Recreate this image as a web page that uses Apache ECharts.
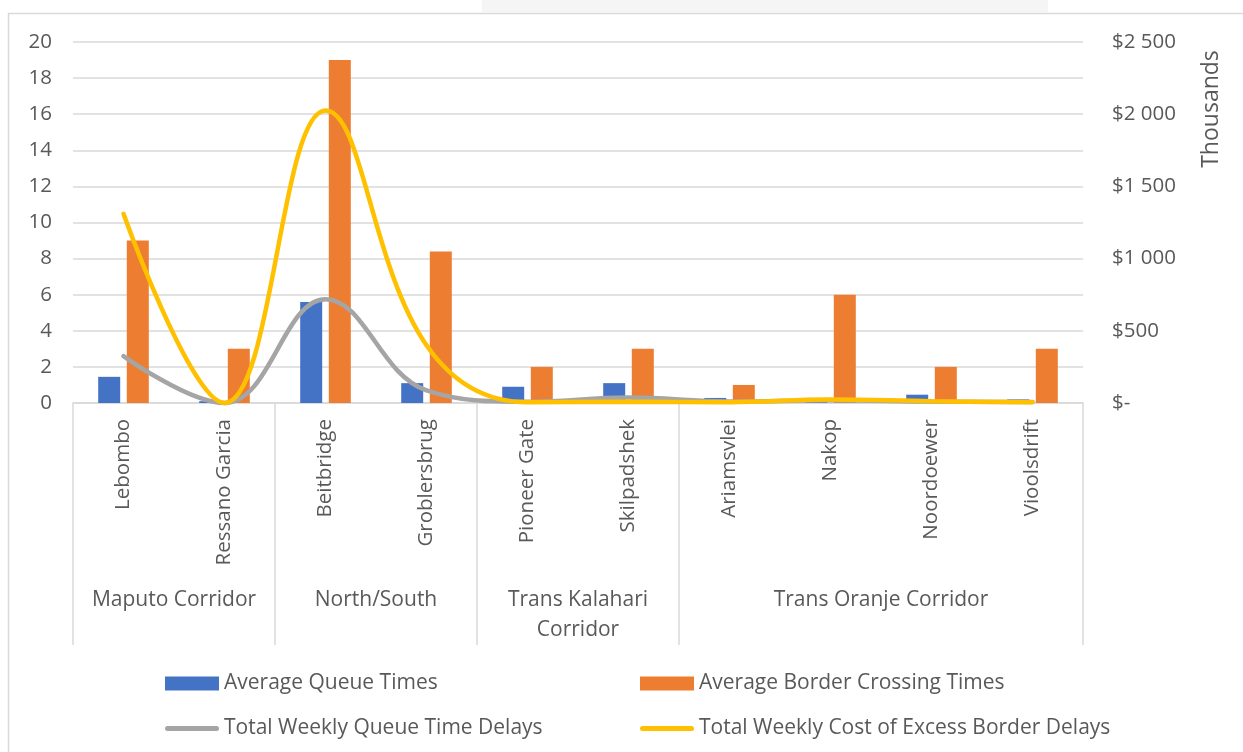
<!DOCTYPE html>
<html>
<head>
<meta charset="utf-8">
<script src="https://cdn.jsdelivr.net/npm/echarts@6/dist/echarts.min.js"></script>
<style>
  html, body { margin: 0; padding: 0; background: #fff; }
  #chart { width: 1243px; height: 752px; }
</style>
</head>
<body>
<div id="chart"></div>
<script>
// Border posts, grouped by trade corridor
const stations = ['Lebombo', 'Ressano Garcia', 'Beitbridge', 'Groblersbrug', 'Pioneer Gate',
  'Skilpadshek', 'Ariamsvlei', 'Nakop', 'Noordoewer', 'Vioolsdrift'];
const corridorNames = ['Maputo Corridor', 'North/South', 'Trans Kalahari Corridor', 'Trans Oranje Corridor'];
const corridorSizes = [2, 2, 2, 4];

// Hours
const avgQueueTimes = [1.45, 0.1, 5.6, 1.1, 0.9, 1.1, 0.28, 0.28, 0.46, 0.2];
const avgCrossingTimes = [9, 3, 19, 8.4, 2, 3, 1, 6, 2, 3];
const weeklyQueueDelays = [2.6, 0, 5.75, 0.7, 0.07, 0.3, 0.08, 0.15, 0.08, 0.05];
// Thousands of dollars
const weeklyExcessCost = [1310, 0, 2025, 400, 5, 8, 5, 25, 12, 5];

const leftTicks = { min: 0, max: 20, interval: 2 };
const rightTicks = { min: 0, max: 2500, interval: 500 };

const seriesNames = ['Average Queue Times', 'Average Border Crossing Times',
  'Total Weekly Queue Time Delays', 'Total Weekly Cost of Excess Border Delays'];

const FONT = '"Open Sans", "Noto Sans", sans-serif';
const TEXT = '#595959';
const GRID_LINE = '#d9d9d9';

const chart = echarts.init(document.getElementById('chart'), null, { renderer: 'canvas' });

const gridLeft = 73, gridRight = 160, gridTop = 42, gridBottom = 349;

// Corridor boundaries and centres in category units
const bounds = [0];
corridorSizes.forEach(n => bounds.push(bounds[bounds.length - 1] + n));
const centres = corridorSizes.map((n, i) => bounds[i] + n / 2);

// Wrap a corridor name to the width of its span
const measureCtx = document.createElement('canvas').getContext('2d');
measureCtx.font = '21px ' + FONT;
const cellWidth = (1243 - gridLeft - gridRight) / stations.length;
function wrapName(name, span) {
  const maxW = span * cellWidth - 20;
  const words = name.split(' ');
  const lines = [];
  let cur = '';
  words.forEach(w => {
    const test = cur ? cur + ' ' + w : w;
    if (cur && measureCtx.measureText(test).width > maxW) { lines.push(cur); cur = w; }
    else cur = test;
  });
  if (cur) lines.push(cur);
  return lines.join('\n');
}

function money(v) {
  if (v === 0) return '$-';
  return '$' + String(v).replace(/\B(?=(\d{3})+(?!\d))/g, ' ');
}

// Thick rounded stroke used as the legend key of the line series
const LINE_KEY = 'path://M2.5,0 H51.5 A2.5,2.5 0 0 1 51.5,5 H2.5 A2.5,2.5 0 0 1 2.5,0 Z';

const legendText = { fontSize: 21, color: TEXT, fontFamily: FONT };

const option = {
  animation: false,
  backgroundColor: '#ffffff',
  textStyle: { fontFamily: FONT },
  graphic: [
    { type: 'rect', silent: true, shape: { x: 482, y: 0, width: 566, height: 12 }, style: { fill: '#f5f5f5' } },
    { type: 'rect', silent: true, shape: { x: 8.5, y: 13.5, width: 1260, height: 760 },
      style: { fill: 'none', stroke: GRID_LINE, lineWidth: 1.5 } },
    { type: 'text', silent: true, x: 1211, y: 109, rotation: Math.PI / 2,
      style: { text: 'Thousands', font: '23px ' + FONT, fill: TEXT, align: 'center', verticalAlign: 'middle' } }
  ],
  grid: { left: gridLeft, right: gridRight, top: gridTop, bottom: gridBottom, containLabel: false },
  legend: [
    {
      data: [{ name: seriesNames[0], icon: 'rect' }, { name: seriesNames[2], icon: LINE_KEY }],
      orient: 'vertical', left: 160, top: 668, itemWidth: 54, itemHeight: 14, itemGap: 24,
      textStyle: legendText
    },
    {
      data: [{ name: seriesNames[1], icon: 'rect' }, { name: seriesNames[3], icon: LINE_KEY }],
      orient: 'vertical', left: 635, top: 668, itemWidth: 54, itemHeight: 14, itemGap: 24,
      textStyle: legendText
    }
  ],
  xAxis: [
    {
      type: 'category',
      data: stations,
      boundaryGap: true,
      axisLine: { show: true, lineStyle: { color: GRID_LINE, width: 1.5 } },
      axisTick: { show: false },
      axisLabel: { rotate: 90, margin: 16, fontSize: 20.5, color: TEXT, fontFamily: FONT }
    },
    {
      type: 'value',
      position: 'bottom',
      min: 0,
      max: stations.length,
      axisLine: { show: false },
      splitLine: { show: false },
      axisTick: { show: true, customValues: bounds, length: 242, lineStyle: { color: GRID_LINE, width: 1.5 } },
      axisLabel: {
        customValues: centres,
        margin: 182,
        fontSize: 21,
        lineHeight: 30,
        color: TEXT,
        fontFamily: FONT,
        formatter: v => {
          const i = centres.indexOf(v);
          return i >= 0 ? wrapName(corridorNames[i], corridorSizes[i]) : '';
        }
      }
    }
  ],
  yAxis: [
    {
      type: 'value',
      min: leftTicks.min, max: leftTicks.max, interval: leftTicks.interval,
      axisLine: { show: false },
      axisTick: { show: false },
      splitLine: { show: true, lineStyle: { color: GRID_LINE, width: 1.5 } },
      axisLabel: { margin: 21, fontSize: 20.5, color: TEXT, fontFamily: FONT }
    },
    {
      type: 'value',
      position: 'right',
      min: rightTicks.min, max: rightTicks.max, interval: rightTicks.interval,
      axisLine: { show: false },
      axisTick: { show: false },
      splitLine: { show: false },
      axisLabel: { margin: 29, fontSize: 20.5, color: TEXT, fontFamily: FONT, formatter: money }
    }
  ],
  series: [
    {
      name: seriesNames[0], type: 'bar', xAxisIndex: 0, yAxisIndex: 0,
      data: avgQueueTimes, barWidth: 22, barGap: '30%',
      itemStyle: { color: '#4472c4' }
    },
    {
      name: seriesNames[1], type: 'bar', xAxisIndex: 0, yAxisIndex: 0,
      data: avgCrossingTimes, barWidth: 22, barGap: '30%',
      itemStyle: { color: '#ed7d31' }
    },
    {
      name: seriesNames[2], type: 'line', xAxisIndex: 0, yAxisIndex: 0,
      data: weeklyQueueDelays, smooth: 0.4, symbol: 'none', clip: false,
      itemStyle: { color: '#a5a5a5' },
      lineStyle: { color: '#a5a5a5', width: 4.5, cap: 'round' }
    },
    {
      name: seriesNames[3], type: 'line', xAxisIndex: 0, yAxisIndex: 1,
      data: weeklyExcessCost, smooth: 0.4, symbol: 'none', clip: false,
      itemStyle: { color: '#ffc000' },
      lineStyle: { color: '#ffc000', width: 4.5, cap: 'round' }
    }
  ]
};

chart.setOption(option);
</script>
</body>
</html>
